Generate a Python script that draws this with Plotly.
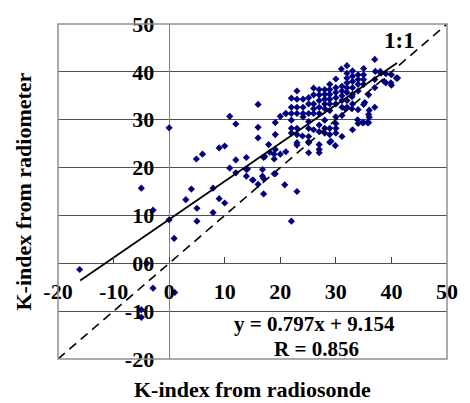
import plotly.graph_objects as go

# Data
sonde = [
    -16.1, -5.0, -2.9, 0.0, 0.0, 0.9, -4.0, -2.9, 1.0, -5.0, -5.0,
    3.0, 4.0, 5.0, 5.0, 4.9, 6.0, 7.9, 7.9, 9.0, 10.0, 9.0, 10.0, 10.9, 10.9,
    12.0, 12.0, 12.0, 13.9, 13.9, 13.9, 15.1, 16.0, 16.8, 16.8, 17.9, 17.2, 17.0,
    16.0, 16.0, 16.0, 22.0, 20.8, 23.0, 18.9, 18.9, 20.0, 18.9, 21.0, 19.1, 18.1,
    19.1, 19.1, 20.0, 21.0, 14.1, 15.0, 17.0, 17.0, 19.1,
    37.0, 32.0, 33.0, 35.0, 38.0, 39.0, 40.0, 41.1, 40.0, 39.0, 37.0, 37.0, 37.0,
    35.9, 35.9, 35.0, 34.0, 34.0, 33.0, 35.0,
    32.0, 32.0, 32.0, 32.0, 32.0, 31.1, 31.1, 31.1, 31.1,
    33.0, 33.0, 33.0, 34.0, 34.0, 34.0, 35.0, 35.0, 35.0,
    30.0, 30.0, 30.0, 30.0, 30.0, 28.9, 28.9, 28.9, 28.9, 28.9, 28.9,
    28.0, 28.0, 28.0, 28.0, 28.0, 27.0, 27.0, 27.0, 27.0, 27.0,
    26.0, 26.0, 26.0, 26.0, 25.1, 25.1, 25.1, 24.1, 24.1, 24.1,
    23.0, 23.0, 23.0, 23.0, 22.0, 22.0, 22.0, 22.0, 22.0, 22.0, 21.0,
    24.1, 25.1, 25.1, 25.1, 23.0, 23.0, 23.0, 25.1, 25.1,
    27.0, 27.0, 27.0, 26.0, 27.0, 27.0, 28.0, 28.0, 28.0,
    28.9, 28.9, 28.9, 30.0, 30.0, 30.0, 30.0, 31.1, 31.1, 32.0, 33.0, 32.0,
    33.0, 34.0, 35.9, 29.1, 31.1, 25.1, 23.0,
    38.1, 38.7, 39.9, 40.9, 37.1, 35.2, 34.8, 35.7, 32.9, 31.7, 32.9,
    36.0, 36.0, 29.9, 24.0, 26.0, 31.0, 33.9,
]
radiometer = [
    -1.3, 15.7, 11.1, 28.3, 9.1, 5.2, 0.0, -5.2, -6.1, -9.7, -11.3,
    13.3, 15.5, 11.5, 8.8, 21.8, 22.8, 15.7, 10.6, 13.5, 12.6, 24.1, 24.5, 30.7, 19.9,
    29.1, 21.6, 18.9, 22.1, 19.6, 18.2, 17.4, 16.5, 19.6, 18.2, 24.8, 22.3, 14.5,
    33.2, 28.4, 26.2, 8.8, 16.4, 15.0, 18.7, 22.8, 22.8, 21.8, 23.3, 23.8, 23.2,
    26.9, 29.4, 30.7, 31.3, 19.7, 17.4, 22.1, 17.7, 18.7,
    42.6, 41.3, 40.2, 40.7, 40.1, 39.6, 39.4, 38.7, 37.2, 37.7, 38.4, 36.7, 32.6,
    31.1, 29.4, 29.4, 29.2, 32.1, 27.9, 33.2,
    39.7, 38.7, 37.7, 36.7, 35.7, 37.0, 36.0, 35.0, 34.0,
    39.1, 38.0, 36.7, 39.4, 38.4, 37.4, 39.4, 38.4, 37.4,
    38.5, 36.7, 35.7, 34.6, 33.3, 37.4, 36.3, 35.3, 34.3, 33.3, 31.9,
    36.3, 35.3, 34.3, 33.3, 32.3, 36.3, 35.2, 34.0, 32.6, 31.3,
    35.2, 33.3, 32.3, 31.3, 34.6, 33.3, 31.3, 34.3, 32.6, 31.3,
    36.0, 34.3, 32.6, 31.3, 34.5, 32.6, 31.3, 29.9, 28.2, 27.2, 31.3,
    30.6, 29.6, 28.2, 26.5, 28.2, 26.9, 25.2, 25.2, 23.1,
    24.8, 23.8, 23.1, 27.9, 28.9, 27.5, 29.9, 28.2, 27.2,
    28.2, 26.9, 25.3, 30.6, 28.2, 27.2, 29.2, 32.6, 30.9, 32.6, 33.3, 34.0,
    35.3, 36.0, 35.2, 25.5, 26.5, 25.4, 24.7,
    39.7, 38.0, 37.7, 38.7, 40.1, 33.6, 29.4, 29.4, 32.3, 32.3, 34.8,
    32.0, 30.5, 24.6, 26.6, 36.6, 40.6, 30.0,
]
fit_x = [-16, 41]
fit_slope, fit_intercept = 0.797, 9.154
one_to_one = [-20, 50]
tick_vals = [-20, -10, 0, 10, 20, 30, 40, 50]
x_tick_text = ["-20", "-10", "0", "10", "20", "30", "40", "50"]
y_tick_text = ["-20", "-10", "00", "10", "20", "30", "40", "50"]

FONT = "Liberation Serif"
fig = go.Figure()
fig.add_trace(go.Scatter(
    x=sonde, y=radiometer, mode="markers",
    marker=dict(symbol="diamond", size=5.5, color="#000080", line=dict(width=0)),
    showlegend=False, hoverinfo="skip"))
fig.add_trace(go.Scatter(
    x=fit_x, y=[fit_slope * v + fit_intercept for v in fit_x], mode="lines",
    line=dict(color="black", width=1.8), showlegend=False))
fig.add_trace(go.Scatter(
    x=one_to_one, y=one_to_one, mode="lines",
    line=dict(color="black", width=1.6, dash="9px,6px"), showlegend=False))

fig.update_layout(
    width=470, height=403,
    margin=dict(l=58, r=14, t=15, b=44),
    paper_bgcolor="white", plot_bgcolor="white",
    font=dict(family=FONT, size=22, color="black"),
    xaxis=dict(
        range=[-20, 50], tickvals=tick_vals, ticktext=x_tick_text,
        showgrid=False, zeroline=True, zerolinecolor="#808080", zerolinewidth=1,
        anchor="free", position=20 / 70, showline=False,
        ticks="inside", ticklen=6, tickcolor="#404040", tickwidth=1,
        ticklabelstandoff=13,
        tickfont=dict(family=FONT, size=22, color="black", weight="bold"),
    ),
    yaxis=dict(
        range=[-20, 50], tickvals=tick_vals, ticktext=y_tick_text,
        showgrid=True, gridcolor="#505050", gridwidth=1, zeroline=False,
        anchor="free", position=20 / 70, showline=False, ticks="",
        ticklabelstandoff=15,
        tickfont=dict(family=FONT, size=22, color="black", weight="bold"),
    ),
    shapes=[dict(type="rect", xref="paper", yref="paper", x0=0, y0=0, x1=1, y1=1,
                 line=dict(color="#909090", width=1.5), layer="above")],
    annotations=[
        dict(text="<b>K-index from radiosonde</b>", xref="paper", yref="paper",
             x=0.5, y=0, yshift=-45, xanchor="center", yanchor="bottom", showarrow=False,
             font=dict(family=FONT, size=22)),
        dict(text="<b>K-index from radiometer</b>", xref="paper", yref="paper",
             x=0, xshift=-35, y=0.5, xanchor="center", yanchor="middle",
             textangle=-90, showarrow=False,
             font=dict(family=FONT, size=22)),
        dict(text="<b>1:1</b>", xref="x", yref="y", x=41.4, y=46.6,
             showarrow=False, font=dict(family=FONT, size=23)),
        dict(text="<b>y = 0.797x + 9.154</b>", xref="x", yref="y", x=26.1, y=-12.7,
             showarrow=False, font=dict(family=FONT, size=21)),
        dict(text="<b>R = 0.856</b>", xref="x", yref="y", x=26.5, y=-18.0,
             showarrow=False, font=dict(family=FONT, size=21)),
    ],
)
fig.write_html("out.html")
